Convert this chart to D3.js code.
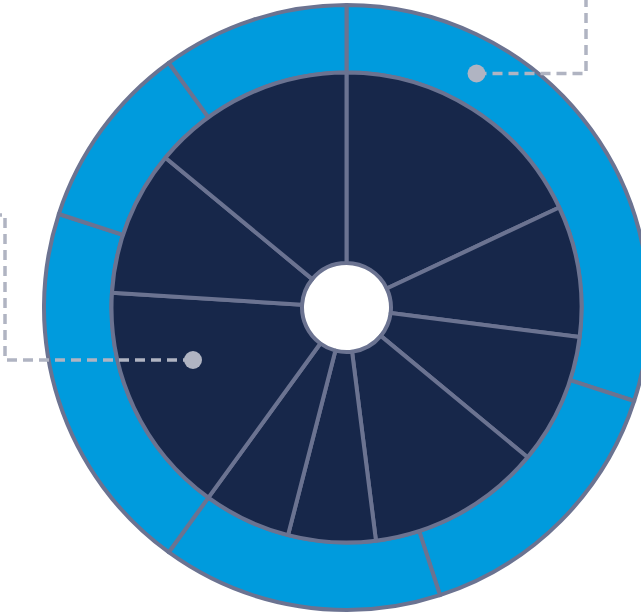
<!DOCTYPE html>
<html><head><meta charset="utf-8">
<script src="https://cdn.jsdelivr.net/npm/d3@7"></script>
<style>html,body{margin:0;padding:0;background:#fff;overflow:hidden}</style>
</head><body>
<svg id="c" width="641" height="614"></svg>
<script>
// Data
const outerCategories = ["O1","O2","O3","O4","O5","O6"];
const outerValues = [30, 15, 15, 20, 10, 10];
const innerCategories = ["I1","I2","I3","I4","I5","I6","I7","I8","I9"];
const innerValues = [18, 9, 9, 12, 6, 6, 16, 10, 14];

const W = 641, H = 614;
const cx = 346.5, cy = 307.5;
const rHole = 44.5, rInner = 235, rOuter = 302.5;
const strokeCol = "#6b7391";
const svg = d3.select("#c");
const g = svg.append("g").attr("transform", `translate(${cx},${cy})`);

const pie = d3.pie().sort(null).value(d => d.v);

const outerData = pie(outerCategories.map((c,i)=>({c, v: outerValues[i]})));
const innerData = pie(innerCategories.map((c,i)=>({c, v: innerValues[i]})));

const arcOuter = d3.arc().innerRadius(rInner).outerRadius(rOuter);
const arcInner = d3.arc().innerRadius(rHole).outerRadius(rInner);

g.selectAll("path.outer").data(outerData).join("path")
  .attr("class","outer")
  .attr("d", arcOuter)
  .attr("fill", "#009bdd")
  .attr("stroke", strokeCol).attr("stroke-width", 4).attr("stroke-linejoin","round");

g.selectAll("path.inner").data(innerData).join("path")
  .attr("class","inner")
  .attr("d", arcInner)
  .attr("fill", "#17274a")
  .attr("stroke", strokeCol).attr("stroke-width", 4).attr("stroke-linejoin","round");

// Leader lines
const leaderCol = "#b0b4c2";
const leaders = [
  {pts: [[476.5,73.5],[586,73.5],[586,-10]]},
  {pts: [[193,360],[5,360],[5,215],[-10,215]]}
];
leaders.forEach(l => {
  svg.append("path")
    .attr("d", d3.line()(l.pts))
    .attr("fill","none").attr("stroke", leaderCol)
    .attr("stroke-width", 3.5).attr("stroke-dasharray","10,6");
  svg.append("circle").attr("cx", l.pts[0][0]).attr("cy", l.pts[0][1])
    .attr("r", 9).attr("fill", leaderCol);
});
</script>
</body></html>
